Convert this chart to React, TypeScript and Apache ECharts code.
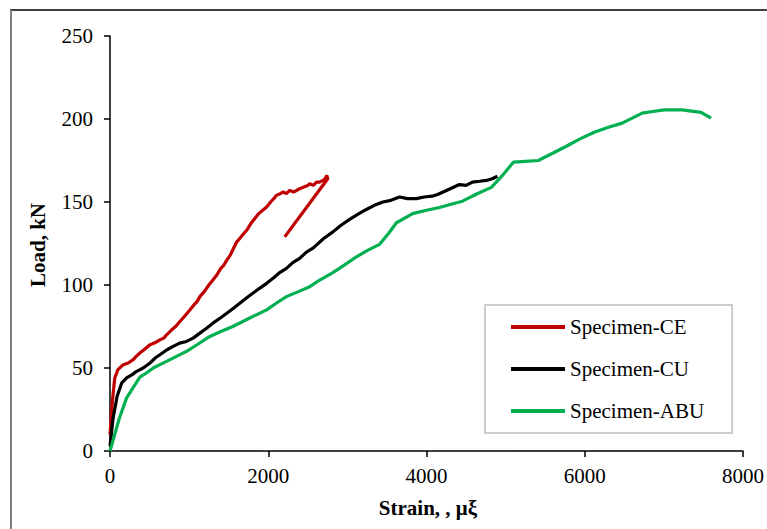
import React, { useEffect, useRef } from "react";
import * as echarts from "echarts";

const seriesNames = ["Specimen-CE", "Specimen-CU", "Specimen-ABU"];
const seriesColors = ["#C00000", "#000000", "#00B050"];

const xTicks = [0, 2000, 4000, 6000, 8000];
const yTicks = [0, 50, 100, 150, 200, 250];

const specimenCE: [number, number][] = [
  [0, 10], [30, 30], [60, 44], [100, 49], [168, 52], [230, 53], [294, 55], [330, 57],
  [378, 59], [430, 61], [505, 64], [560, 65], [631, 67], [680, 68], [715, 70], [780, 73],
  [830, 75], [883, 78], [940, 81], [1009, 85], [1060, 88], [1100, 90], [1136, 93],
  [1190, 96], [1250, 100], [1300, 103], [1350, 106], [1400, 110], [1440, 112], [1476, 115],
  [1520, 118], [1560, 122], [1602, 126], [1640, 128], [1690, 131], [1728, 133], [1780, 137],
  [1830, 140], [1880, 143], [1930, 145], [1980, 147], [2030, 150], [2070, 152], [2103, 154],
  [2150, 155], [2190, 156], [2230, 155], [2270, 157], [2320, 156], [2360, 157], [2397, 158],
  [2450, 159], [2500, 160], [2524, 161], [2570, 160], [2610, 162], [2650, 162], [2690, 163],
  [2720, 164], [2740, 166], [2752, 164], [2208, 129],
];

const specimenCU: [number, number][] = [
  [0, 3], [40, 20], [90, 33], [148, 41], [210, 44], [280, 46], [337, 48], [420, 50],
  [505, 53], [570, 56], [631, 58], [720, 61], [799, 63], [880, 65], [967, 66], [1050, 68],
  [1136, 71], [1220, 74], [1300, 77], [1390, 80], [1476, 83], [1560, 86], [1640, 89],
  [1720, 92], [1804, 95], [1890, 98], [1980, 101], [2060, 104], [2145, 107.5], [2230, 110],
  [2310, 113.5], [2397, 116], [2486, 120], [2560, 122], [2608, 124], [2700, 128], [2817, 132],
  [2920, 136], [3028, 139.5], [3130, 142.5], [3240, 145.5], [3340, 148], [3449, 150],
  [3550, 151], [3659, 153], [3760, 152], [3872, 152], [3970, 153], [4072, 153.5],
  [4140, 154.5], [4210, 156], [4300, 158], [4416, 160.5], [4500, 160], [4580, 162],
  [4670, 162.5], [4757, 163], [4830, 164], [4896, 165.5],
];

const specimenABU: [number, number][] = [
  [0, 0], [60, 10], [120, 20], [210, 32], [290, 38], [378, 44.5], [460, 47], [546, 50],
  [630, 52], [715, 54], [840, 57], [967, 60], [1100, 64], [1262, 69], [1400, 72], [1552, 75],
  [1760, 80], [1980, 85], [2100, 89], [2230, 93], [2380, 96], [2524, 99], [2650, 103],
  [2817, 107.5], [2960, 112], [3115, 117], [3260, 121], [3407, 124.5], [3520, 131],
  [3620, 137.5], [3825, 143], [4000, 145], [4164, 146.7], [4300, 148.5], [4454, 150.5],
  [4640, 155], [4820, 158.8], [4960, 166], [5098, 174], [5250, 174.5], [5413, 175],
  [5600, 179.5], [5767, 183.6], [5940, 188], [6120, 192], [6300, 195], [6473, 197.5],
  [6600, 200.5], [6726, 203.5], [6860, 204.5], [7003, 205.5], [7230, 205.5], [7470, 204],
  [7596, 200.5],
];

const seriesData = [specimenCE, specimenCU, specimenABU];

const FONT = "'Liberation Serif', 'Times New Roman', serif";

export default function App() {
  const ref = useRef<HTMLDivElement>(null);
  useEffect(() => {
    if (!ref.current) return;
    const chart = echarts.init(ref.current, null, { renderer: "svg" });
    chart.setOption({
      animation: false,
      backgroundColor: "#ffffff",
      grid: { left: 110, right: 23, top: 36, bottom: 78 },
      xAxis: {
        type: "value",
        min: xTicks[0],
        max: xTicks[xTicks.length - 1],
        interval: 2000,
        splitLine: { show: false },
        axisLine: { show: true, onZero: false, lineStyle: { color: "#000", width: 1.5 } },
        axisTick: { show: true, length: 6, lineStyle: { color: "#000", width: 1.5 } },
        axisLabel: {
          color: "#000",
          fontSize: 21,
          fontFamily: FONT,
          margin: 14,
          formatter: (v: number) => String(v),
        },
      },
      yAxis: {
        type: "value",
        min: yTicks[0],
        max: yTicks[yTicks.length - 1],
        interval: 50,
        splitLine: { show: false },
        axisLine: { show: true, lineStyle: { color: "#000", width: 1.5 } },
        axisTick: { show: true, length: 6, lineStyle: { color: "#000", width: 1.5 } },
        axisLabel: {
          color: "#000",
          fontSize: 21,
          fontFamily: FONT,
          margin: 17,
          formatter: (v: number) => String(v),
        },
      },
      legend: {
        left: 485,
        top: 305,
        orient: "vertical",
        icon: "rect",
        itemWidth: 54,
        itemHeight: 4,
        itemGap: 18,
        padding: [10, 28, 10, 26],
        borderColor: "#bfbfbf",
        borderWidth: 1.5,
        backgroundColor: "#fff",
        textStyle: { color: "#000", fontSize: 21, fontFamily: FONT, lineHeight: 24 },
        data: seriesNames,
      },
      series: seriesNames.map((name, i) => ({
        name,
        type: "line",
        data: seriesData[i],
        showSymbol: false,
        symbol: "none",
        color: seriesColors[i],
        lineStyle: { color: seriesColors[i], width: 3.2 },
        z: 2 + i,
      })),
      graphic: [
        {
          type: "line",
          shape: { x1: 10, y1: 10, x2: 767, y2: 10 },
          style: { stroke: "#404040", lineWidth: 2 },
        },
        {
          type: "line",
          shape: { x1: 11, y1: 10, x2: 11, y2: 529 },
          style: { stroke: "#808080", lineWidth: 2 },
        },
        {
          type: "text",
          x: 38,
          y: 245,
          rotation: Math.PI / 2,
          style: {
            text: "Load, kN",
            font: `bold 21px ${FONT}`,
            fill: "#000",
            textAlign: "center",
            textVerticalAlign: "middle",
          },
        },
        {
          type: "text",
          x: 428,
          y: 508,
          style: {
            text: "Strain, , μξ",
            font: `bold 21px ${FONT}`,
            fill: "#000",
            textAlign: "center",
            textVerticalAlign: "middle",
          },
        },
      ],
    });
    return () => chart.dispose();
  }, []);
  return (
    <div
      ref={ref}
      style={{ position: "fixed", left: 0, top: 0, width: 767, height: 529 }}
    />
  );
}
